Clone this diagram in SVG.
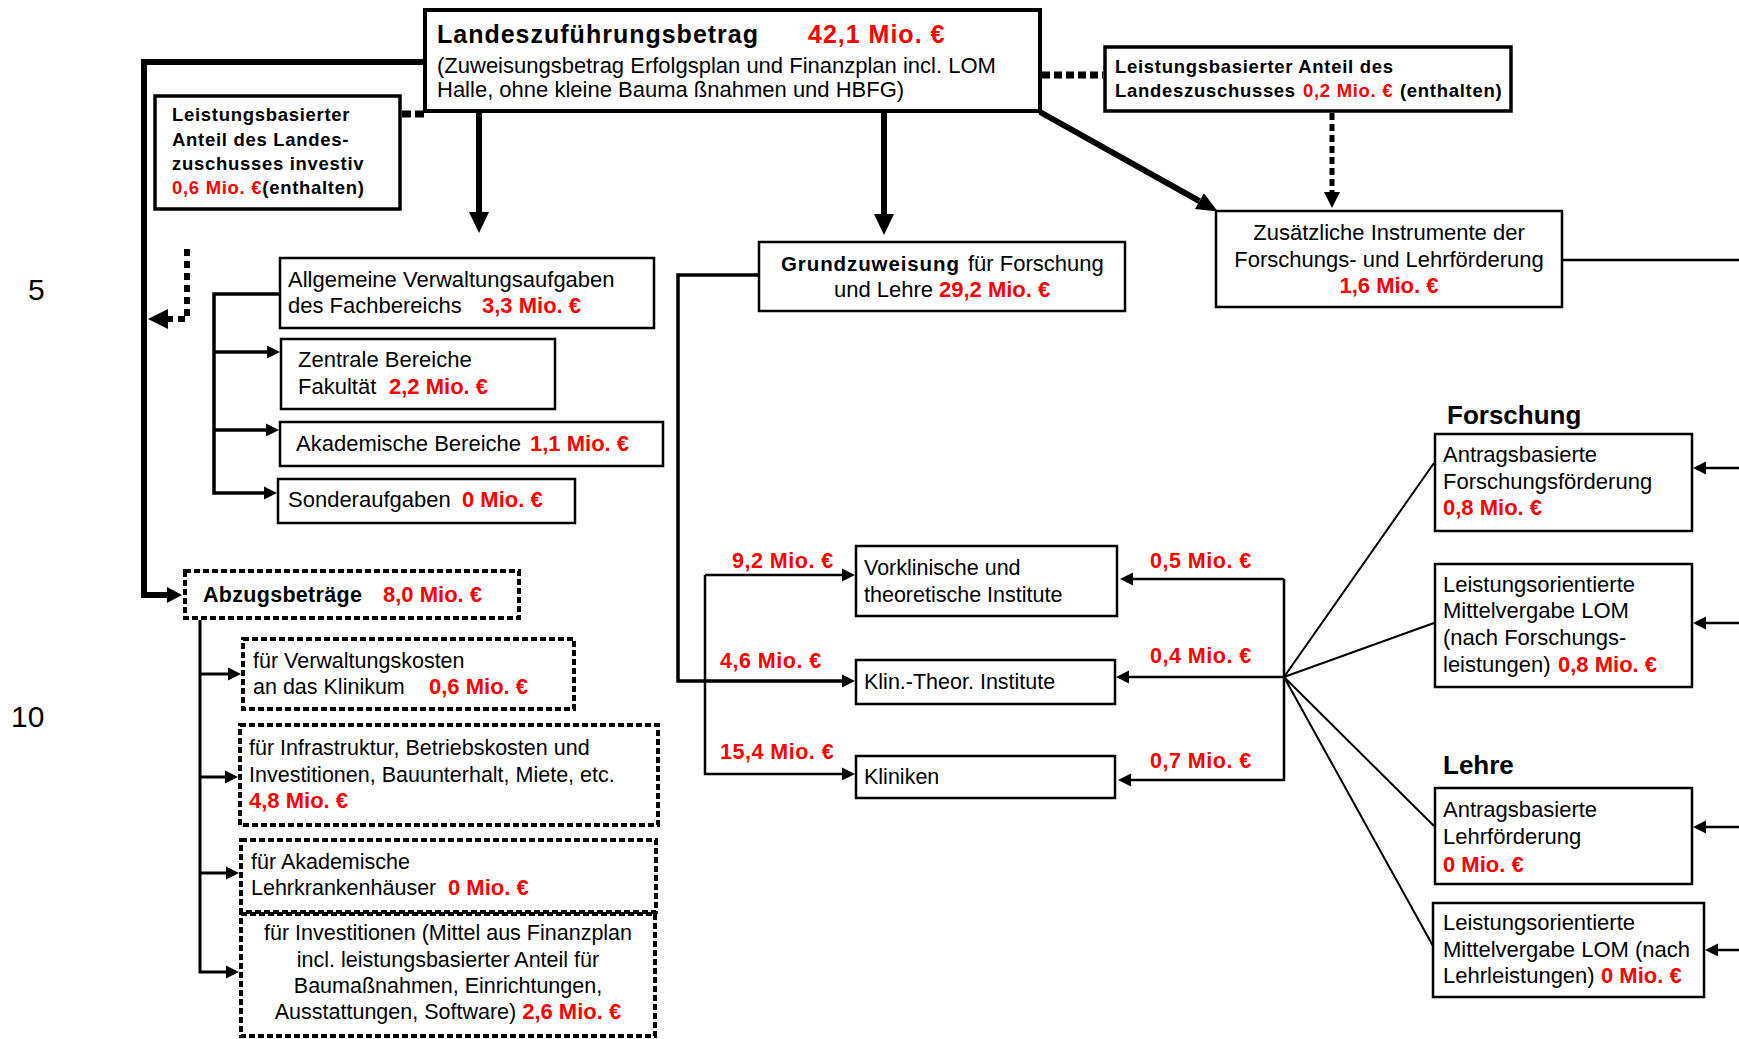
<svg xmlns="http://www.w3.org/2000/svg" width="1739" height="1039" viewBox="0 0 1739 1039">
<defs>
<style>
text{font-family:"Liberation Sans",Arial,sans-serif;fill:#000}
.r{font-size:22px}
.r21{font-size:21.5px}
.red{fill:#ff0000;font-weight:bold}
.sb{font-size:18.5px;font-weight:bold;letter-spacing:0.7px}
.ttl{font-size:25px;font-weight:bold;letter-spacing:1px}
.lab{font-size:21.5px;font-weight:bold;fill:#ff0000;letter-spacing:0.5px}
.hd{font-size:26px;font-weight:bold}
.num{font-size:30px}
.box{fill:#fff;stroke:#000;stroke-width:2.5}
.boxT{fill:#fff;stroke:#000;stroke-width:3.5}
.boxM{fill:#fff;stroke:#000;stroke-width:4}
.boxD{fill:#fff;stroke:#000;stroke-width:4;stroke-dasharray:6 3}
.ln{fill:none;stroke:#000;stroke-linejoin:miter;stroke-linecap:butt}
</style>
<marker id="mS" markerUnits="userSpaceOnUse" viewBox="0 -7 13 14" refX="0" refY="0" markerWidth="13" markerHeight="14" orient="auto" overflow="visible"><path d="M0,-6.5L13,0L0,6.5z"/></marker>
<marker id="mB" markerUnits="userSpaceOnUse" viewBox="0 -10 21 20" refX="0" refY="0" markerWidth="21" markerHeight="20" orient="auto" overflow="visible"><path d="M0,-10L21,0L0,10z"/></marker>
<marker id="mD" markerUnits="userSpaceOnUse" viewBox="0 -9 21 18" refX="0" refY="0" markerWidth="21" markerHeight="18" orient="auto" overflow="visible"><path d="M0,-9L21,0L0,9z"/></marker>
<marker id="mA" markerUnits="userSpaceOnUse" viewBox="0 -8 15 16" refX="0" refY="0" markerWidth="15" markerHeight="16" orient="auto" overflow="visible"><path d="M0,-8L15,0L0,8z"/></marker>
<marker id="mDot" markerUnits="userSpaceOnUse" viewBox="0 -10 20 20" refX="0" refY="0" markerWidth="20" markerHeight="20" orient="auto" overflow="visible"><path d="M0,-10L20,0L0,10z"/></marker>
<marker id="mDD" markerUnits="userSpaceOnUse" viewBox="0 -8 16 16" refX="0" refY="0" markerWidth="16" markerHeight="16" orient="auto" overflow="visible"><path d="M0,-8L16,0L0,8z"/></marker>
</defs>
<rect width="1739" height="1039" fill="#fff"/>

<g id="connectors">
<path class="ln" stroke-width="6" d="M425,62H144V595H167" marker-end="url(#mA)"/>
<path class="ln" stroke-width="7" stroke-dasharray="9 4" d="M402,114H425"/>
<path class="ln" stroke-width="6" d="M479,113V212" marker-end="url(#mB)"/>
<path class="ln" stroke-width="6" d="M884,113V214" marker-end="url(#mB)"/>
<path class="ln" stroke-width="7" stroke-dasharray="8 4" d="M1042,75H1103"/>
<path class="ln" stroke-width="5" stroke-dasharray="7 4" d="M1332,113V192" marker-end="url(#mDD)"/>
<path class="ln" stroke-width="6" d="M1040,112L1199.5,201.2" marker-end="url(#mD)"/>
<path class="ln" stroke-width="2.5" d="M1563,260H1739"/>
<path class="ln" stroke-width="6" stroke-dasharray="7 5" d="M187,249V319H168" marker-end="url(#mDot)"/>
<path class="ln" stroke-width="3.5" d="M279,294H214V493H264" marker-end="url(#mS)"/>
<path class="ln" stroke-width="3.5" d="M214,352H267" marker-end="url(#mS)"/>
<path class="ln" stroke-width="3.5" d="M214,430H266" marker-end="url(#mS)"/>
<path class="ln" stroke-width="3" d="M200,620V972H226" marker-end="url(#mS)"/>
<path class="ln" stroke-width="3" d="M200,674H228" marker-end="url(#mS)"/>
<path class="ln" stroke-width="3" d="M200,777H225" marker-end="url(#mS)"/>
<path class="ln" stroke-width="3" d="M200,873H226" marker-end="url(#mS)"/>
<path class="ln" stroke-width="3.5" d="M758,275H678V681H842" marker-end="url(#mS)"/>
<path class="ln" stroke-width="2.5" d="M705,575V774H842" marker-end="url(#mS)"/>
<path class="ln" stroke-width="2.5" d="M705,575H842" marker-end="url(#mS)"/>
<path class="ln" stroke-width="2.5" d="M1284,579V780H1131" marker-end="url(#mS)"/>
<path class="ln" stroke-width="2.5" d="M1284,579H1133" marker-end="url(#mS)"/>
<path class="ln" stroke-width="2.5" d="M1284,677H1129" marker-end="url(#mS)"/>
<path class="ln" stroke-width="2" d="M1284,677L1434,463M1284,677L1434,623M1284,677L1434,826M1284,677L1433,946"/>
<path class="ln" stroke-width="2.5" d="M1739,468H1706" marker-end="url(#mS)"/>
<path class="ln" stroke-width="2.5" d="M1739,623H1706" marker-end="url(#mS)"/>
<path class="ln" stroke-width="2.5" d="M1739,827H1706" marker-end="url(#mS)"/>
<path class="ln" stroke-width="2.5" d="M1739,950H1718" marker-end="url(#mS)"/>
</g>

<g id="margin-numbers">
<text class="num" x="28" y="300">5</text>
<text class="num" x="11" y="727">10</text>
</g>

<g id="n-landes">
<rect class="boxM" x="425" y="10" width="615" height="101"/>
<text class="ttl" x="437" y="43">Landeszuführungsbetrag</text>
<text class="ttl red" x="808" y="43">42,1 Mio. €</text>
<text class="r" x="437" y="73">(Zuweisungsbetrag Erfolgsplan und Finanzplan incl. LOM</text>
<text class="r" x="437" y="97">Halle, ohne kleine Bauma ßnahmen und HBFG)</text>
</g>

<g id="n-lb-investiv">
<rect class="boxT" x="155" y="96" width="245" height="113"/>
<text class="sb" x="172" y="121">Leistungsbasierter</text>
<text class="sb" x="172" y="146">Anteil des Landes-</text>
<text class="sb" x="172" y="170">zuschusses investiv</text>
<text class="sb" x="172" y="194"><tspan class="red">0,6 Mio. €</tspan>(enthalten)</text>
</g>

<g id="n-lb-anteil">
<rect class="boxT" x="1105" y="47" width="406" height="64"/>
<text class="sb" x="1115" y="73">Leistungsbasierter Anteil des</text>
<text class="sb" x="1115" y="97">Landeszuschusses</text>
<text class="sb red" x="1303" y="97">0,2 Mio. €</text>
<text class="sb" x="1400" y="97">(enthalten)</text>
</g>

<g id="n-zusaetzlich">
<rect class="box" x="1216" y="211" width="346" height="96"/>
<text class="r" x="1389" y="240" text-anchor="middle">Zusätzliche Instrumente der</text>
<text class="r" x="1389" y="267" text-anchor="middle">Forschungs- und Lehrförderung</text>
<text class="r red" x="1389" y="293" text-anchor="middle">1,6 Mio. €</text>
</g>

<g id="n-grund">
<rect class="box" x="759" y="242" width="366" height="69"/>
<text x="781" y="271" style="font-size:20.5px;font-weight:bold;letter-spacing:0.9px">Grundzuweisung</text>
<text class="r" x="968" y="271">für Forschung</text>
<text class="r" x="834" y="297">und Lehre</text>
<text class="r red" x="939" y="297">29,2 Mio. €</text>
</g>

<g id="n-allgemein">
<rect class="box" x="280" y="258" width="374" height="70"/>
<text class="r" x="288" y="287">Allgemeine Verwaltungsaufgaben</text>
<text class="r" x="288" y="313">des Fachbereichs</text>
<text class="r red" x="482" y="313">3,3 Mio. €</text>
</g>

<g id="n-zentral">
<rect class="box" x="281" y="339" width="274" height="70"/>
<text class="r" x="298" y="367">Zentrale Bereiche</text>
<text class="r" x="298" y="394">Fakultät</text>
<text class="r red" x="389" y="394">2,2 Mio. €</text>
</g>

<g id="n-akad">
<rect class="box" x="280" y="422" width="383" height="44"/>
<text class="r" x="296" y="451">Akademische Bereiche</text>
<text class="r red" x="530" y="451">1,1 Mio. €</text>
</g>

<g id="n-sonder">
<rect class="box" x="278" y="479" width="297" height="44"/>
<text class="r" x="288" y="507">Sonderaufgaben</text>
<text class="r red" x="462" y="507">0 Mio. €</text>
</g>

<g id="n-abzug">
<rect class="boxD" x="185" y="571" width="334" height="47"/>
<text x="203" y="602" style="font-size:21.5px;font-weight:bold;letter-spacing:0.3px">Abzugsbeträge</text>
<text class="r red" x="383" y="602">8,0 Mio. €</text>
</g>

<g id="n-verwaltung">
<rect class="boxD" x="243" y="639" width="331" height="70"/>
<text class="r21" x="253" y="668">für Verwaltungskosten</text>
<text class="r21" x="253" y="694">an das Klinikum</text>
<text class="r red" x="429" y="694">0,6 Mio. €</text>
</g>

<g id="n-infra">
<rect class="boxD" x="240" y="725" width="418" height="100"/>
<text class="r21" x="249" y="755">für Infrastruktur, Betriebskosten und</text>
<text class="r21" x="249" y="782">Investitionen, Bauunterhalt, Miete, etc.</text>
<text class="r red" x="249" y="808">4,8 Mio. €</text>
</g>

<g id="n-lehrkh">
<rect class="boxD" x="241" y="840" width="415" height="72"/>
<text class="r21" x="251" y="869">für Akademische</text>
<text class="r21" x="251" y="895">Lehrkrankenhäuser</text>
<text class="r red" x="448" y="895">0 Mio. €</text>
</g>

<g id="n-invest">
<rect class="boxD" x="241" y="914" width="414" height="122"/>
<text class="r21" x="448" y="940" text-anchor="middle">für Investitionen (Mittel aus Finanzplan</text>
<text class="r21" x="448" y="967" text-anchor="middle">incl. leistungsbasierter Anteil für</text>
<text class="r21" x="448" y="993" text-anchor="middle">Baumaßnahmen, Einrichtungen,</text>
<text class="r21" x="448" y="1019" text-anchor="middle">Ausstattungen, Software) <tspan class="red" style="font-size:22px">2,6 Mio. €</tspan></text>
</g>

<g id="n-vorklinik">
<rect class="box" x="856" y="546" width="261" height="70"/>
<text class="r21" x="864" y="575">Vorklinische und</text>
<text class="r21" x="864" y="602">theoretische Institute</text>
</g>

<g id="n-klintheor">
<rect class="box" x="856" y="660" width="259" height="44"/>
<text class="r21" x="864" y="689">Klin.-Theor. Institute</text>
</g>

<g id="n-kliniken">
<rect class="box" x="856" y="756" width="259" height="42"/>
<text class="r21" x="864" y="784">Kliniken</text>
</g>

<g id="labels">
<text class="lab" x="732" y="568">9,2 Mio. €</text>
<text class="lab" x="720" y="668">4,6 Mio. €</text>
<text class="lab" x="720" y="759">15,4 Mio. €</text>
<text class="lab" x="1150" y="568">0,5 Mio. €</text>
<text class="lab" x="1150" y="663">0,4 Mio. €</text>
<text class="lab" x="1150" y="768">0,7 Mio. €</text>
<text class="hd" x="1447" y="424">Forschung</text>
<text class="hd" x="1443" y="774">Lehre</text>
</g>

<g id="n-f-antrag">
<rect class="box" x="1435" y="434" width="257" height="97"/>
<text class="r" x="1443" y="462">Antragsbasierte</text>
<text class="r" x="1443" y="489">Forschungsförderung</text>
<text class="r red" x="1443" y="515">0,8 Mio. €</text>
</g>

<g id="n-f-lom">
<rect class="box" x="1435" y="564" width="257" height="123"/>
<text class="r" x="1443" y="592">Leistungsorientierte</text>
<text class="r" x="1443" y="618">Mittelvergabe LOM</text>
<text class="r" x="1443" y="645">(nach Forschungs-</text>
<text class="r" x="1443" y="672">leistungen)</text>
<text class="r red" x="1558" y="672">0,8 Mio. €</text>
</g>

<g id="n-l-antrag">
<rect class="box" x="1435" y="788" width="257" height="96"/>
<text class="r" x="1443" y="817">Antragsbasierte</text>
<text class="r" x="1443" y="844">Lehrförderung</text>
<text class="r red" x="1443" y="872">0 Mio. €</text>
</g>

<g id="n-l-lom">
<rect class="box" x="1433" y="903" width="271" height="94"/>
<text class="r" x="1443" y="930">Leistungsorientierte</text>
<text class="r" x="1443" y="957">Mittelvergabe LOM (nach</text>
<text class="r" x="1443" y="983">Lehrleistungen)</text>
<text class="r red" x="1601" y="983">0 Mio. €</text>
</g>
</svg>
